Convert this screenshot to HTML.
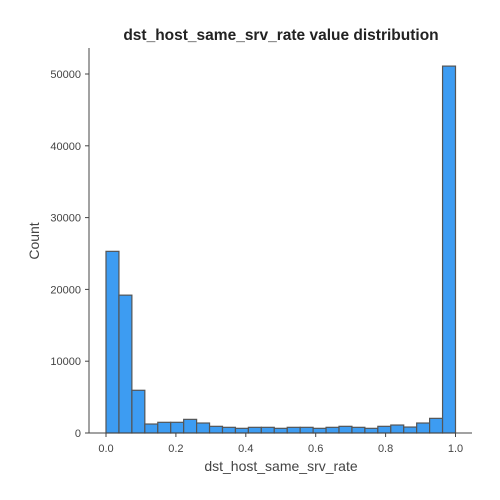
<!DOCTYPE html>
<html><head><meta charset="utf-8"><style>
body{margin:0;background:#fff;}
svg{display:block;font-family:"Liberation Sans",sans-serif;}
</style></head><body>
<svg id="chart" width="500" height="500">
<text x="281" y="40" text-anchor="middle" font-size="15.5" font-weight="bold" fill="#222">dst_host_same_srv_rate value distribution</text>
<g id="bars"></g>
<g id="axes"></g>
<text x="281" y="471" text-anchor="middle" font-size="14" fill="#444">dst_host_same_srv_rate</text>
<text transform="translate(39,241) rotate(-90)" text-anchor="middle" font-size="14" fill="#444">Count</text>
</svg>
<script>
const counts=[25300,19200,5950,1250,1490,1490,1900,1390,930,790,650,790,790,650,790,790,650,790,930,790,650,930,1110,830,1390,2040,51100];
const xTicks=[0,0.2,0.4,0.6,0.8,1.0];
const xTickLabels=["0.0","0.2","0.4","0.6","0.8","1.0"];
const yTicks=[0,10000,20000,30000,40000,50000];
const NS="http://www.w3.org/2000/svg";
const x=v=>106+v*349.5;
const y=v=>433-v*359/50000;
const bars=document.getElementById('bars');
const n=counts.length;
counts.forEach((c,i)=>{
  const r=document.createElementNS(NS,'rect');
  r.setAttribute('x',x(i/n));r.setAttribute('width',x((i+1)/n)-x(i/n));
  r.setAttribute('y',y(c));r.setAttribute('height',433-y(c));
  r.setAttribute('fill','#3d9cf2');r.setAttribute('stroke','#555');r.setAttribute('stroke-width','1.2');
  
  
  bars.appendChild(r);
});
const ax=document.getElementById('axes');
function line(x1,y1,x2,y2,name){const l=document.createElementNS(NS,'line');l.setAttribute('x1',x1);l.setAttribute('y1',y1);l.setAttribute('x2',x2);l.setAttribute('y2',y2);l.setAttribute('stroke','#444');l.setAttribute('stroke-width','1');


ax.appendChild(l);}
function text(tx,ty,s,anchor,name){const t=document.createElementNS(NS,'text');t.setAttribute('x',tx);t.setAttribute('y',ty);t.setAttribute('text-anchor',anchor);t.setAttribute('font-size','11');t.setAttribute('fill','#444');t.textContent=s;


ax.appendChild(t);}
line(89,48,89,433,'y-axis-line');
line(89,433,472,433,'x-axis-line');
xTicks.forEach((v,i)=>{line(x(v),433,x(v),437,'x-tick');text(x(v),452,xTickLabels[i],'middle','x-tick-label');});
yTicks.forEach(v=>{line(85,y(v),89,y(v),'y-tick');text(81,y(v)+4,String(v),'end','y-tick-label');});
</script>
</body></html>
